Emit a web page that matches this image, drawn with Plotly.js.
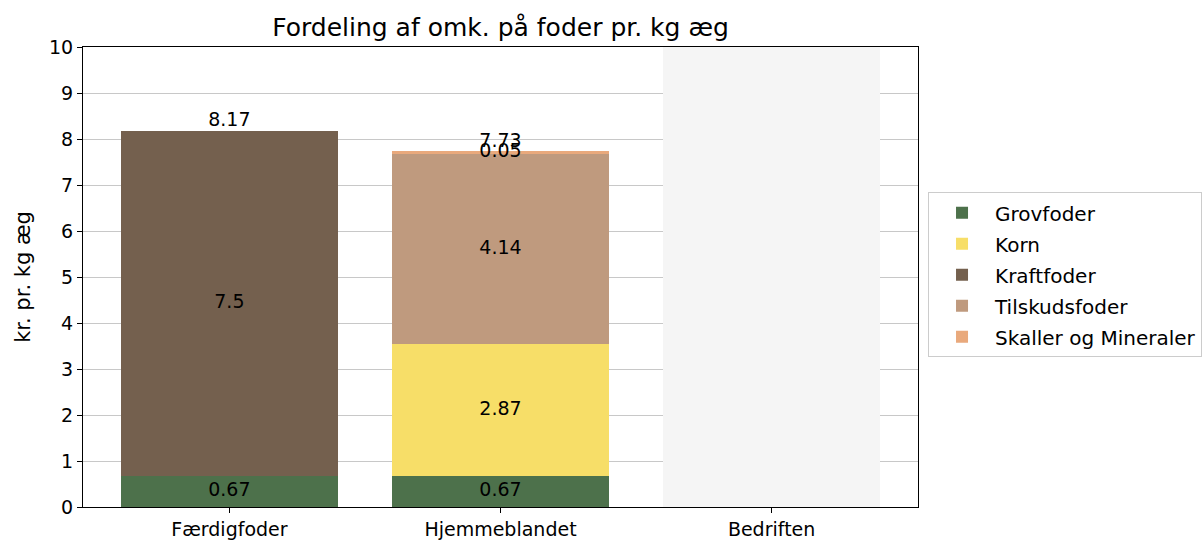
<!DOCTYPE html>
<html>
<head>
<meta charset="utf-8">
<script src="https://cdn.plot.ly/plotly-3.0.1.min.js"></script>
<style>
  html, body { margin: 0; padding: 0; background: #fff; }
  #chart { width: 1202px; height: 541px; }
</style>
</head>
<body>
<div id="chart"></div>
<script>
// Categories and stacked cost components (kr. pr. kg æg)
const categories = ['Færdigfoder', 'Hjemmeblandet', 'Bedriften'];
const grovfoder = [0.67, 0.67, 0];
const korn = [0, 2.87, 0];
const kraftfoder = [7.5, 0, 0];
const tilskudsfoder = [0, 4.14, 0];
const skaller = [0, 0.05, 0];
// Bedriften has no data, only the grey background column
const baggrund = [0, 0, 10];

const seriesNames = ['Grovfoder', 'Korn', 'Kraftfoder', 'Tilskudsfoder', 'Skaller og Mineraler'];
const seriesValues = [grovfoder, korn, kraftfoder, tilskudsfoder, skaller];
const seriesColors = ['#4d714b', '#f7de68', '#74604e', '#bf9a7e', '#e9a97c'];

const font = 'DejaVu Sans, sans-serif';
const fs = 19;

const traces = seriesNames.map((name, i) => ({
    type: 'bar',
    name: name,
    legendgroup: 'g' + i,
    x: categories,
    y: seriesValues[i],
    marker: { color: seriesColors[i], line: { width: 0 } },
    hoverinfo: 'skip'
}));

traces.push({
    type: 'bar',
    x: categories,
    y: baggrund,
    marker: { color: '#f5f5f5', line: { width: 0 } },
    showlegend: false,
    hoverinfo: 'skip'
});

// Segment labels at the middle of each non-zero segment
const segX = [], segY = [], segT = [];
const totals = categories.map(() => 0);
seriesValues.forEach(vals => {
    vals.forEach((v, j) => {
        if (v > 0) {
            segX.push(categories[j]);
            segY.push(totals[j] + v / 2);
            segT.push(String(v));
        }
        totals[j] += v;
    });
});

traces.push({
    type: 'scatter',
    mode: 'text',
    x: segX,
    y: segY,
    text: segT,
    textposition: 'middle center',
    textfont: { family: font, size: fs, color: '#000' },
    showlegend: false,
    hoverinfo: 'skip'
});

// Total labels on top of each bar
const totX = [], totY = [], totT = [];
totals.forEach((t, j) => {
    if (t > 0) {
        totX.push(categories[j]);
        totY.push(t);
        totT.push(String(Math.round(t * 100) / 100));
    }
});

traces.push({
    type: 'scatter',
    mode: 'text',
    x: totX,
    y: totY,
    text: totT,
    textposition: 'top center',
    textfont: { family: font, size: fs, color: '#000' },
    showlegend: false,
    hoverinfo: 'skip'
});

const layout = {
    width: 1202,
    height: 541,
    margin: { l: 83, r: 284, t: 47, b: 34, pad: 0, autoexpand: false },
    paper_bgcolor: '#fff',
    plot_bgcolor: '#fff',
    font: { family: font, size: fs, color: '#000' },
    barmode: 'stack',
    bargap: 0.2,
    title: {
        text: 'Fordeling af omk. på foder pr. kg æg',
        font: { family: font, size: 25, color: '#000' },
        x: (83 + 835 / 2) / 1202,
        xanchor: 'center',
        y: 1 - 27 / 541,
        yanchor: 'middle'
    },
    xaxis: {
        type: 'category',
        range: [-0.54, 2.54],
        showline: true,
        linecolor: '#000',
        linewidth: 1,
        mirror: true,
        ticks: 'outside',
        ticklen: 5,
        tickcolor: '#000',
        showgrid: false,
        tickfont: { family: font, size: fs, color: '#000' },
        automargin: false
    },
    yaxis: {
        range: [0, 10],
        dtick: 1,
        showline: true,
        linecolor: '#000',
        linewidth: 1,
        mirror: true,
        ticks: 'outside',
        ticklen: 5,
        tickcolor: '#000',
        showgrid: true,
        gridcolor: '#c8c8c8',
        gridwidth: 1,
        zeroline: false,
        tickfont: { family: font, size: fs, color: '#000' },
        title: { text: 'kr. pr. kg æg', font: { family: font, size: 21, color: '#000' }, standoff: 12 },
        automargin: false
    },
    legend: {
        x: 1.012,
        xanchor: 'left',
        y: 0.684,
        yanchor: 'top',
        traceorder: 'grouped',
        tracegroupgap: 2,
        itemwidth: 56,
        bgcolor: '#fff',
        bordercolor: '#cccccc',
        borderwidth: 1,
        font: { family: font, size: 20, color: '#000' }
    },
    showlegend: true
};

Plotly.newPlot('chart', traces, layout, { staticPlot: true });
</script>
</body>
</html>
